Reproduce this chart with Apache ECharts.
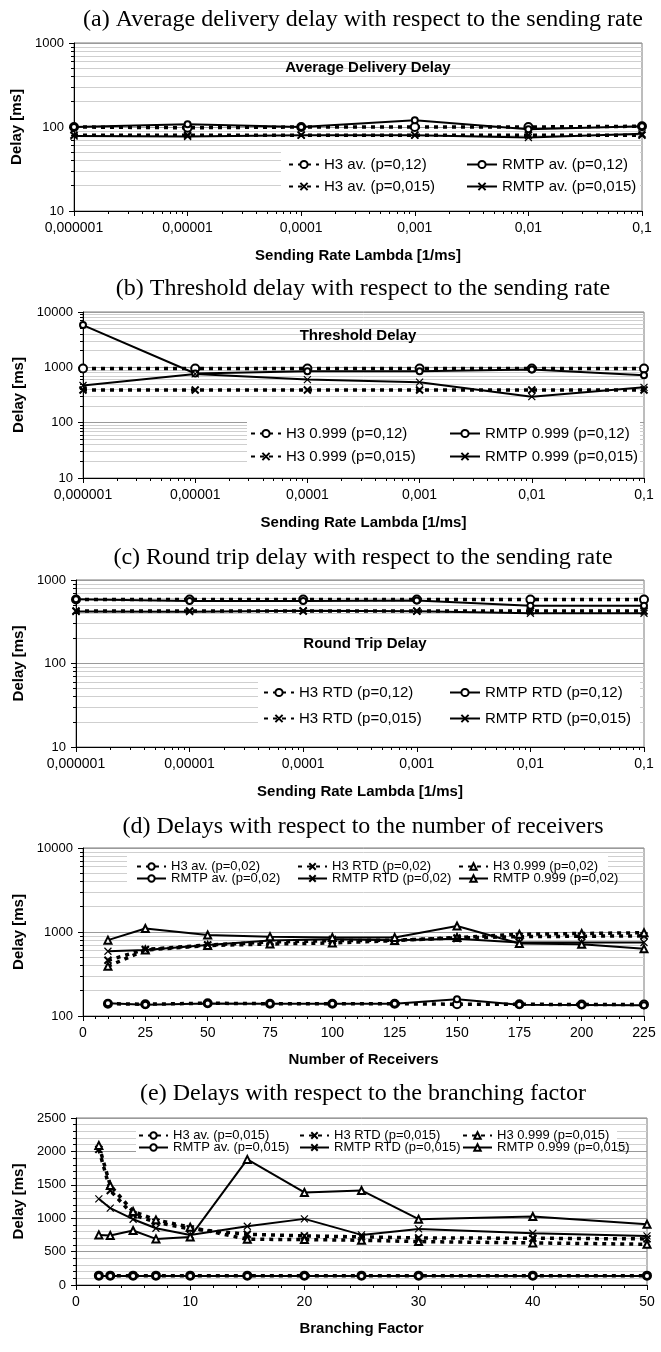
<!DOCTYPE html>
<html><head><meta charset="utf-8">
<script src="https://cdn.jsdelivr.net/npm/echarts@6/dist/echarts.min.js"></script>
<style>
body{margin:0;background:#fff;}
.p{position:absolute;left:0;width:661px;}
</style>
</head><body>
<div id="pa" class="p" style="top:0;height:270px"></div>
<div id="pb" class="p" style="top:270px;height:270px"></div>
<div id="pc" class="p" style="top:540px;height:270px"></div>
<div id="pd" class="p" style="top:810px;height:270px"></div>
<div id="pe" class="p" style="top:1080px;height:272px"></div>
<script>
// ---------- DATA ----------
const rates = [0.000001, 0.00001, 0.0001, 0.001, 0.01, 0.1];
const rateTickLabels = ['0,000001', '0,00001', '0,0001', '0,001', '0,01', '0,1'];

// (a) average delivery delay [ms]
const avgH3_p012 = [100, 98, 100, 100, 100, 102];
const avgRMTP_p012 = [100, 108, 100, 120, 94, 102];
const avgH3_p0015 = [80, 80, 80, 80, 80, 80];
const avgRMTP_p0015 = [78, 77, 80, 80, 75, 83];

// (b) threshold delay [ms]
const thrH3_p012 = [950, 950, 950, 950, 950, 950];
const thrRMTP_p012 = [5800, 775, 850, 850, 910, 720];
const thrH3_p0015 = [390, 390, 390, 390, 390, 390];
const thrRMTP_p0015 = [470, 760, 600, 540, 295, 435];

// (c) round trip delay [ms]
const rtdH3_p012 = [585, 585, 585, 585, 585, 585];
const rtdRMTP_p012 = [590, 560, 560, 570, 493, 493];
const rtdH3_p0015 = [425, 425, 425, 425, 425, 425];
const rtdRMTP_p0015 = [420, 418, 428, 422, 400, 400];

// (d) delays vs number of receivers
const receivers = [10, 25, 50, 75, 100, 125, 150, 175, 200, 225];
const recH3av = [140, 138, 142, 140, 140, 140, 138, 138, 137, 137];
const recRMTPav = [142, 136, 141, 140, 140, 140, 158, 136, 135, 134];
const recH3rtd = [460, 620, 700, 760, 790, 800, 850, 880, 890, 900];
const recRMTPrtd = [590, 610, 700, 790, 820, 800, 830, 750, 750, 750];
const recH3thr = [390, 610, 690, 720, 740, 790, 860, 940, 960, 980];
const recRMTPthr = [800, 1100, 920, 880, 860, 860, 1180, 730, 715, 630];

// (e) delays vs branching factor
const branching = [2, 3, 5, 7, 10, 15, 20, 25, 30, 40, 50];
const brH3av = [140, 140, 140, 140, 140, 140, 140, 140, 140, 140, 140];
const brRMTPav = [135, 135, 135, 135, 135, 135, 135, 135, 135, 135, 135];
const brH3rtd = [2030, 1415, 1050, 940, 840, 760, 735, 720, 705, 700, 690];
const brRMTPrtd = [1290, 1150, 985, 850, 750, 880, 990, 750, 840, 775, 735];
const brH3thr = [2090, 1490, 1100, 975, 865, 685, 680, 670, 650, 630, 610];
const brRMTPthr = [750, 740, 815, 690, 720, 1880, 1385, 1415, 985, 1025, 910];

// ---------- STYLE HELPERS ----------
const FN = "'Liberation Sans Narrow','Arial Narrow','Liberation Sans',Arial,sans-serif";
const FS = "'Liberation Serif','Times New Roman',serif";
const X_PATH = 'path://M0,0L10,10M10,0L0,10';

function mk(name, xs, ys, kind, sym) {
  const h3 = kind === 'H3';
  const symbol = sym === 'o' ? 'emptyCircle' : (sym === 'x' ? X_PATH : 'emptyTriangle');
  const size = h3 ? (sym === 'o' ? 8 : 7) : (sym === 'o' ? 6 : 7);
  return {
    name: name, type: 'line',
    data: xs.map((x, i) => [x, ys[i]]),
    symbol: symbol, symbolSize: size, showAllSymbol: true,
    lineStyle: h3 ? {color: '#000', width: 3.5, type: [4, 5], cap: 'butt'} : {color: '#000', width: 2},
    itemStyle: {color: '#000', borderColor: '#000', borderWidth: sym === 'x' ? (h3 ? 2 : 1.2) : 1.2},
    emphasis: {disabled: true},
    z: h3 ? 2 : 3
  };
}

function rateLabel(v) {
  const lv = Math.log10(v);
  const idx = rates.findIndex(r => Math.abs(Math.log10(r) - lv) < 0.01);
  return idx >= 0 ? rateTickLabels[idx] : '';
}
const plainNum = v => String(Math.round(v));

function axisCommon(labelSize, labelMargin, formatter, minorSplit) {
  return {
    axisLine: {show: true, lineStyle: {color: '#000', width: 1}},
    axisTick: {show: true, inside: false, length: 5, lineStyle: {color: '#000'}},
    minorTick: {show: true, length: 3, splitNumber: minorSplit, lineStyle: {color: '#000'}},
    axisLabel: {color: '#000', fontFamily: FN, fontSize: labelSize, margin: labelMargin, formatter: formatter},
    nameTextStyle: {color: '#000', fontFamily: FN, fontSize: 15, fontWeight: 'bold'}
  };
}

function buildPanel(el, p) {
  const chart = echarts.init(document.getElementById(el), null, {renderer: 'canvas'});
  const xAxis = Object.assign(axisCommon(14, 10, p.xFmt, p.xMinor), p.xScale, {
    name: p.xName, nameLocation: 'middle', nameGap: p.xNameGap,
    splitLine: {show: false}, minorSplitLine: {show: false}
  });
  const yAxis = Object.assign(axisCommon(13, 10, p.yFmt, p.yMinor), p.yScale, {
    name: 'Delay [ms]', nameLocation: 'middle', nameGap: p.grid.left - 27,
    splitLine: {show: true, lineStyle: {color: '#9a9a9a', width: 1}},
    minorSplitLine: {show: true, lineStyle: {color: '#cfcfcf', width: 1}}
  });

  const titles = [{
    text: p.title, left: 358, top: p.titleTop, textAlign: 'center',
    textStyle: {fontFamily: FS, fontSize: 24, fontWeight: 'normal', color: '#000'}
  }];
  if (p.inner) {
    titles.push({
      text: p.inner.text, left: p.inner.x, top: p.inner.y, textAlign: 'center',
      textStyle: {fontFamily: FN, fontSize: 15, fontWeight: 'bold', color: '#000'}
    });
  }
  const legends = p.legend.items.map(it => ({
    data: [it.name], left: it.left, top: it.top, padding: 0, itemGap: 0,
    itemWidth: p.legend.itemWidth, itemHeight: p.legend.itemHeight,
    selectedMode: false,
    textStyle: {fontFamily: FN, fontSize: p.legend.fontSize, color: '#000'}
  }));
  chart.setOption({
    animation: false,
    backgroundColor: '#fff',
    title: titles,
    grid: Object.assign({show: true, borderColor: '#7a7a7a', borderWidth: 1, backgroundColor: 'transparent'}, p.grid),
    xAxis: xAxis,
    yAxis: yAxis,
    legend: legends,
    graphic: [{
      type: 'rect', z: 1, silent: true,
      shape: p.legend.box,
      style: {fill: '#fff'}
    }],
    series: p.series
  });
}

const rateScale = () => ({type: 'log', logBase: 10, min: 0.000001, max: 0.1});
const logScale = (mn, mx) => ({type: 'log', logBase: 10, min: mn, max: mx});

// (a)
buildPanel('pa', {
  title: '(a) Average delivery delay with respect to the sending rate', titleTop: 3,
  grid: {left: 74, right: 19, top: 43, height: 168},
  xScale: rateScale(), xFmt: rateLabel, xMinor: 9, xName: 'Sending Rate Lambda [1/ms]', xNameGap: 37,
  yScale: logScale(10, 1000), yFmt: plainNum, yMinor: 9,
  inner: {text: 'Average Delivery Delay', x: 363, y: 55},
  legend: {
    itemWidth: 30, itemHeight: 9, fontSize: 15,
    box: {x: 281, y: 146, width: 359, height: 55},
    items: [
      {name: 'H3 av. (p=0,12)', left: 288, top: 157},
      {name: 'RMTP av. (p=0,12)', left: 466, top: 157},
      {name: 'H3 av. (p=0,015)', left: 288, top: 179},
      {name: 'RMTP av. (p=0,015)', left: 466, top: 179}
    ]
  },
  series: [
    mk('H3 av. (p=0,12)', rates, avgH3_p012, 'H3', 'o'),
    mk('RMTP av. (p=0,12)', rates, avgRMTP_p012, 'RMTP', 'o'),
    mk('H3 av. (p=0,015)', rates, avgH3_p0015, 'H3', 'x'),
    mk('RMTP av. (p=0,015)', rates, avgRMTP_p0015, 'RMTP', 'x')
  ]
});

// (b)
buildPanel('pb', {
  title: '(b) Threshold delay with respect to the sending rate', titleTop: 2,
  grid: {left: 83, right: 17, top: 42, height: 166},
  xScale: rateScale(), xFmt: rateLabel, xMinor: 9, xName: 'Sending Rate Lambda [1/ms]', xNameGap: 37,
  yScale: logScale(10, 10000), yFmt: plainNum, yMinor: 9,
  inner: {text: 'Threshold Delay', x: 353, y: 53},
  legend: {
    itemWidth: 30, itemHeight: 9, fontSize: 15,
    box: {x: 247, y: 149, width: 393, height: 50},
    items: [
      {name: 'H3 0.999 (p=0,12)', left: 250, top: 156},
      {name: 'RMTP 0.999 (p=0,12)', left: 449, top: 156},
      {name: 'H3 0.999 (p=0,015)', left: 250, top: 179},
      {name: 'RMTP 0.999 (p=0,015)', left: 449, top: 179}
    ]
  },
  series: [
    mk('H3 0.999 (p=0,12)', rates, thrH3_p012, 'H3', 'o'),
    mk('RMTP 0.999 (p=0,12)', rates, thrRMTP_p012, 'RMTP', 'o'),
    mk('H3 0.999 (p=0,015)', rates, thrH3_p0015, 'H3', 'x'),
    mk('RMTP 0.999 (p=0,015)', rates, thrRMTP_p0015, 'RMTP', 'x')
  ]
});

// (c)
buildPanel('pc', {
  title: '(c) Round trip delay with respect to the sending rate', titleTop: 1,
  grid: {left: 76, right: 17, top: 40, height: 167},
  xScale: rateScale(), xFmt: rateLabel, xMinor: 9, xName: 'Sending Rate Lambda [1/ms]', xNameGap: 37,
  yScale: logScale(10, 1000), yFmt: plainNum, yMinor: 9,
  inner: {text: 'Round Trip Delay', x: 360, y: 91},
  legend: {
    itemWidth: 30, itemHeight: 9, fontSize: 15,
    box: {x: 258, y: 137, width: 382, height: 63},
    items: [
      {name: 'H3 RTD (p=0,12)', left: 263, top: 145},
      {name: 'RMTP RTD (p=0,12)', left: 449, top: 145},
      {name: 'H3 RTD (p=0,015)', left: 263, top: 171},
      {name: 'RMTP RTD (p=0,015)', left: 449, top: 171}
    ]
  },
  series: [
    mk('H3 RTD (p=0,12)', rates, rtdH3_p012, 'H3', 'o'),
    mk('RMTP RTD (p=0,12)', rates, rtdRMTP_p012, 'RMTP', 'o'),
    mk('H3 RTD (p=0,015)', rates, rtdH3_p0015, 'H3', 'x'),
    mk('RMTP RTD (p=0,015)', rates, rtdRMTP_p0015, 'RMTP', 'x')
  ]
});

// (d)
buildPanel('pd', {
  title: '(d) Delays with respect to the number of receivers', titleTop: 0,
  grid: {left: 83, right: 17, top: 38, height: 168},
  xScale: {type: 'value', min: 0, max: 225, interval: 25}, xFmt: plainNum, xMinor: 5,
  xName: 'Number of Receivers', xNameGap: 36,
  yScale: logScale(100, 10000), yFmt: plainNum, yMinor: 9,
  legend: {
    itemWidth: 29, itemHeight: 8, fontSize: 13,
    box: {x: 127, y: 43, width: 481, height: 33},
    items: [
      {name: 'H3 av. (p=0,02)', left: 136, top: 50},
      {name: 'H3 RTD (p=0,02)', left: 297, top: 50},
      {name: 'H3 0.999 (p=0,02)', left: 458, top: 50},
      {name: 'RMTP av. (p=0,02)', left: 136, top: 62},
      {name: 'RMTP RTD (p=0,02)', left: 297, top: 62},
      {name: 'RMTP 0.999 (p=0,02)', left: 458, top: 62}
    ]
  },
  series: [
    mk('H3 av. (p=0,02)', receivers, recH3av, 'H3', 'o'),
    mk('H3 RTD (p=0,02)', receivers, recH3rtd, 'H3', 'x'),
    mk('H3 0.999 (p=0,02)', receivers, recH3thr, 'H3', 't'),
    mk('RMTP av. (p=0,02)', receivers, recRMTPav, 'RMTP', 'o'),
    mk('RMTP RTD (p=0,02)', receivers, recRMTPrtd, 'RMTP', 'x'),
    mk('RMTP 0.999 (p=0,02)', receivers, recRMTPthr, 'RMTP', 't')
  ]
});

// (e)
buildPanel('pe', {
  title: '(e) Delays with respect to the branching factor', titleTop: -3,
  grid: {left: 76, right: 14, top: 38, height: 167},
  xScale: {type: 'value', min: 0, max: 50, interval: 10}, xFmt: plainNum, xMinor: 5,
  xName: 'Branching Factor', xNameGap: 36,
  yScale: {type: 'value', min: 0, max: 2500, interval: 500}, yFmt: plainNum, yMinor: 5,
  legend: {
    itemWidth: 29, itemHeight: 8, fontSize: 13,
    box: {x: 136, y: 45, width: 481, height: 31},
    items: [
      {name: 'H3 av. (p=0,015)', left: 138, top: 49},
      {name: 'H3 RTD (p=0,015)', left: 299, top: 49},
      {name: 'H3 0.999 (p=0,015)', left: 462, top: 49},
      {name: 'RMTP av. (p=0,015)', left: 138, top: 61},
      {name: 'RMTP RTD (p=0,015)', left: 299, top: 61},
      {name: 'RMTP 0.999 (p=0,015)', left: 462, top: 61}
    ]
  },
  series: [
    mk('H3 av. (p=0,015)', branching, brH3av, 'H3', 'o'),
    mk('H3 RTD (p=0,015)', branching, brH3rtd, 'H3', 'x'),
    mk('H3 0.999 (p=0,015)', branching, brH3thr, 'H3', 't'),
    mk('RMTP av. (p=0,015)', branching, brRMTPav, 'RMTP', 'o'),
    mk('RMTP RTD (p=0,015)', branching, brRMTPrtd, 'RMTP', 'x'),
    mk('RMTP 0.999 (p=0,015)', branching, brRMTPthr, 'RMTP', 't')
  ]
});
</script>
</body></html>
